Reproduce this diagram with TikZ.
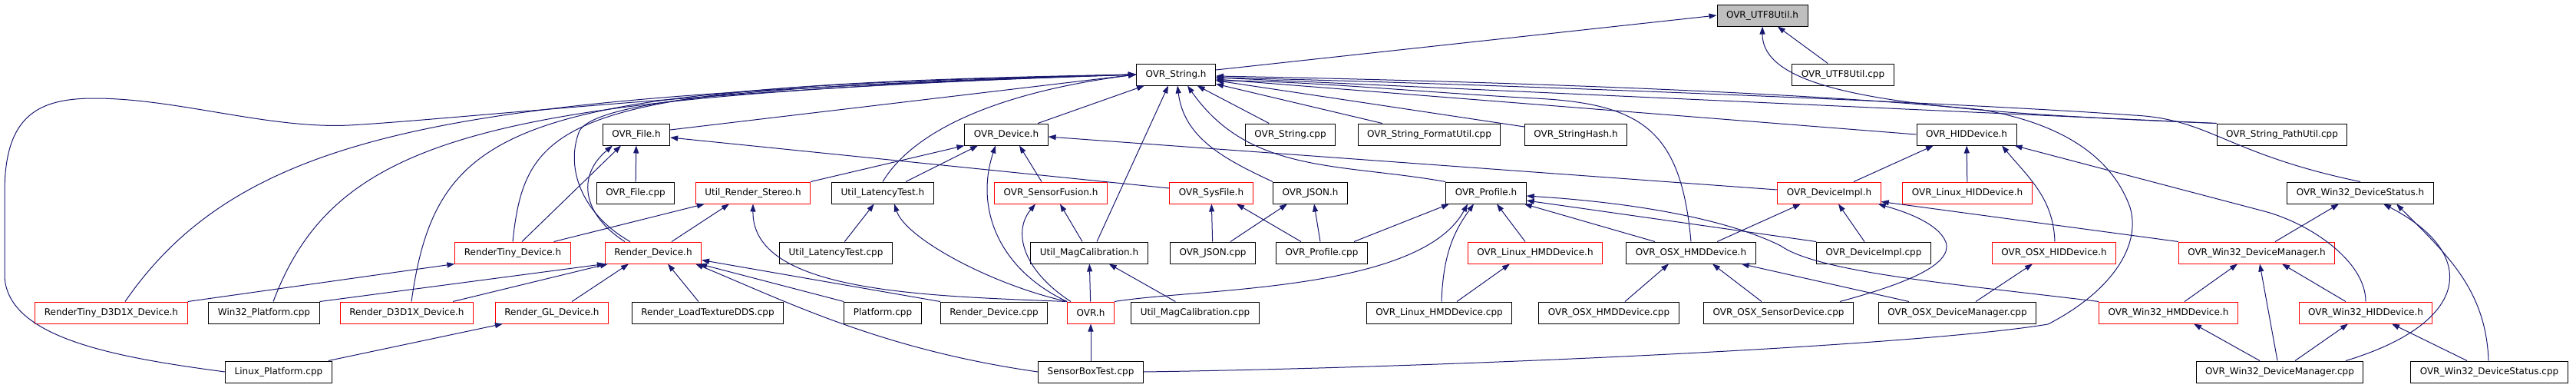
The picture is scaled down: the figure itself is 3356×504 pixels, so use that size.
\documentclass[tikz,border=0pt]{standalone}
\usepackage{fontspec}
\setmainfont{DejaVu Sans}
\usepackage{tikz}
\usetikzlibrary{arrows.meta}
\definecolor{edgeblue}{HTML}{191970}
\tikzset{edge/.style={draw=edgeblue,line width=1pt,-{Triangle[length=10pt,width=7pt]}}}
\tikzset{vertex/.style={rectangle,draw,line width=1pt,fill=white,minimum height=28pt,inner xsep=12pt,inner ysep=0pt,font=\fontsize{12}{14}\selectfont}}
\tikzset{redvertex/.style={vertex,draw=red}}
\tikzset{mainvertex/.style={vertex,fill=gray!50}}

\begin{document}
\begin{tikzpicture}[x=1pt,y=1pt]
    \useasboundingbox (0,0) rectangle (3356,-504);
    % row 0 and 1
    \node[mainvertex] (utfh) at (2296,-20) {OVR\_UTF8Util.h};
    \node[vertex] (strh) at (1532,-97) {OVR\_String.h};
    \node[vertex] (utfcpp) at (2401,-97) {OVR\_UTF8Util.cpp};
    % row 2
    \node[vertex] (fileh) at (829,-175) {OVR\_File.h};
    \node[vertex] (devh) at (1311,-175) {OVR\_Device.h};
    \node[vertex] (strcpp) at (1681,-175) {OVR\_String.cpp};
    \node[vertex] (fmtcpp) at (1862,-175) {OVR\_String\_FormatUtil.cpp};
    \node[vertex] (hashh) at (2053,-175) {OVR\_StringHash.h};
    \node[vertex] (hidh) at (2562,-175) {OVR\_HIDDevice.h};
    \node[vertex] (pathcpp) at (2973,-175) {OVR\_String\_PathUtil.cpp};
    % row 3
    \node[vertex] (filecpp) at (828,-251) {OVR\_File.cpp};
    \node[redvertex] (stereoh) at (981,-251) {Util\_Render\_Stereo.h};
    \node[vertex] (lath) at (1150,-251) {Util\_LatencyTest.h};
    \node[redvertex] (fusionh) at (1369,-251) {OVR\_SensorFusion.h};
    \node[redvertex] (sysh) at (1578,-251) {OVR\_SysFile.h};
    \node[vertex] (jsonh) at (1707,-251) {OVR\_JSON.h};
    \node[vertex] (profh) at (1936,-251) {OVR\_Profile.h};
    \node[redvertex] (implh) at (2383,-251) {OVR\_DeviceImpl.h};
    \node[redvertex] (lnxhidh) at (2563,-251) {OVR\_Linux\_HIDDevice.h};
    \node[vertex] (wstath) at (3075,-251) {OVR\_Win32\_DeviceStatus.h};
    % row 4
    \node[redvertex] (tinyh) at (668,-329) {RenderTiny\_Device.h};
    \node[redvertex] (rdevh) at (851,-329) {Render\_Device.h};
    \node[vertex] (latcpp) at (1089,-329) {Util\_LatencyTest.cpp};
    \node[vertex] (magh) at (1419,-329) {Util\_MagCalibration.h};
    \node[vertex] (jsoncpp) at (1580,-329) {OVR\_JSON.cpp};
    \node[vertex] (profcpp) at (1722,-329) {OVR\_Profile.cpp};
    \node[redvertex] (lnxhmdh) at (2000,-329) {OVR\_Linux\_HMDDevice.h};
    \node[vertex] (osxhmdh) at (2203,-329) {OVR\_OSX\_HMDDevice.h};
    \node[vertex] (implcpp) at (2441,-329) {OVR\_DeviceImpl.cpp};
    \node[redvertex] (osxhidh) at (2676,-329) {OVR\_OSX\_HIDDevice.h};
    \node[redvertex] (wmgrh) at (2940,-329) {OVR\_Win32\_DeviceManager.h};
    % row 5
    \node[redvertex] (tinyd3dh) at (145,-407) {RenderTiny\_D3D1X\_Device.h};
    \node[vertex] (winpfcpp) at (344,-407) {Win32\_Platform.cpp};
    \node[redvertex] (rd3dh) at (530,-407) {Render\_D3D1X\_Device.h};
    \node[redvertex] (rglh) at (719,-407) {Render\_GL\_Device.h};
    \node[vertex] (ddscpp) at (922,-407) {Render\_LoadTextureDDS.cpp};
    \node[vertex] (pfcpp) at (1150,-407) {Platform.cpp};
    \node[vertex] (rdevcpp) at (1295,-407) {Render\_Device.cpp};
    \node[redvertex] (ovrh) at (1421,-407) {OVR.h};
    \node[vertex] (magcpp) at (1557,-407) {Util\_MagCalibration.cpp};
    \node[vertex] (lnxhmdcpp) at (1875,-407) {OVR\_Linux\_HMDDevice.cpp};
    \node[vertex] (osxhmdcpp) at (2096,-407) {OVR\_OSX\_HMDDevice.cpp};
    \node[vertex] (osxsenscpp) at (2317,-407) {OVR\_OSX\_SensorDevice.cpp};
    \node[vertex] (osxmgrcpp) at (2550,-407) {OVR\_OSX\_DeviceManager.cpp};
    \node[redvertex] (whmdh) at (2825,-407) {OVR\_Win32\_HMDDevice.h};
    \node[redvertex] (whidh) at (3082,-407) {OVR\_Win32\_HIDDevice.h};
    % row 6
    \node[vertex] (lnxpfcpp) at (363,-484) {Linux\_Platform.cpp};
    \node[vertex] (boxcpp) at (1421,-484) {SensorBoxTest.cpp};
    \node[vertex] (wmgrcpp) at (2970,-484) {OVR\_Win32\_DeviceManager.cpp};
    \node[vertex] (wstatcpp) at (3243,-484) {OVR\_Win32\_DeviceStatus.cpp};

    % into OVR_UTF8Util.h
    \draw[edge] ([yshift=6pt]strh.east) -- (utfh.west);
    \draw[edge] (utfcpp) -- (utfh);
    \draw[edge] (pathcpp.north west) .. controls (2500,-145) and (2296,-125) .. (utfh.south);

    % into OVR_String.h
    \draw[edge] (lnxpfcpp.west) .. controls (150,-465) and (10,-440) .. (6,-360) -- (6,-250)
        .. controls (6,-150) and (50,-128) .. (123,-128) .. controls (230,-128) and (350,-168) .. (455,-163)
        .. controls (600,-155) and (1000,-110) .. (strh.west);
    \draw[edge] ([xshift=18pt]tinyd3dh.north) .. controls (330,-150) and (650,-125) .. (strh.west);
    \draw[edge] ([xshift=12pt]winpfcpp.north) .. controls (440,-170) and (650,-125) .. (strh.west);
    \draw[edge] ([xshift=6pt]rd3dh.north) .. controls (570,-150) and (680,-115) .. (strh.west);
    \draw[edge] (tinyh.north) .. controls (685,-150) and (740,-110) .. (strh.west);
    \draw[edge] ([xshift=-30pt]rdevh.north) .. controls (760,-280) and (735,-220) .. (755,-170)
        .. controls (780,-130) and (1000,-110) .. (strh.west);
    \draw[edge] ([yshift=6pt]fileh.east) -- (strh.west);
    \draw[edge] (devh) -- (strh);
    \draw[edge] (lath.north) .. controls (1190,-170) and (1300,-120) .. (strh.west);
    \draw[edge] ([xshift=10pt]magh.north) -- ([xshift=-10pt]strh.south);
    \draw[edge] (strcpp) -- (strh);
    \draw[edge] (fmtcpp) -- (strh);
    \draw[edge] (hashh) -- (strh);
    \draw[edge] (jsonh.north west) to[out=155,in=-83] ([xshift=2pt]strh.south);
    \draw[edge] (profh.north west) to[out=170,in=-55] ([xshift=15pt]strh.south);
    \draw[edge] (osxhmdh.north) .. controls (2190,-170) and (2140,-135) .. (2000,-128)
        .. controls (1850,-120) and (1700,-105) .. ([yshift=-8pt]strh.east);
    \draw[edge] (hidh.west) -- ([yshift=-6pt]strh.east);
    \draw[edge] (pathcpp.north west) -- ([yshift=-4pt]strh.east);
    \draw[edge] (wstath.north) .. controls (2900,-200) and (2880,-155) .. (2780,-150)
        .. controls (2500,-130) and (1800,-105) .. ([yshift=-4pt]strh.east);
    \draw[edge] (boxcpp.east) .. controls (1900,-478) and (2500,-450) .. (2668,-422)
        .. controls (2750,-380) and (2790,-320) .. (2775,-270) .. controls (2750,-200) and (2680,-160) .. (2583,-143)
        .. controls (2300,-115) and (1800,-103) .. ([yshift=-2pt]strh.east);

    % OVR_File.h and OVR_Device.h
    \draw[edge] ([xshift=12pt]tinyh.north) -- ([xshift=-20pt]fileh.south);
    \draw[edge] ([xshift=-37pt]rdevh.north) .. controls (760,-280) and (750,-230) .. ([xshift=-31pt]fileh.south);
    \draw[edge] (filecpp) -- (fileh);
    \draw[edge] ([yshift=6pt]sysh.west) -- ([yshift=-4pt]fileh.east);
    \draw[edge] (stereoh.north east) -- (devh.south west);
    \draw[edge] ([xshift=30pt]lath.north) -- ([xshift=-37pt]devh.south);
    \draw[edge] (ovrh.north west) .. controls (1300,-350) and (1270,-270) .. ([xshift=-14pt]devh.south);
    \draw[edge] ([xshift=-12pt]fusionh.north) -- ([xshift=17pt]devh.south);
    \draw[edge] ([yshift=4pt]implh.west) -- ([yshift=-3pt]devh.east);

    % Util headers and OVR.h
    \draw[edge] ([xshift=-22pt]tinyh.north east) -- ([xshift=12pt]stereoh.south west);
    \draw[edge] ([xshift=24pt]rdevh.north) -- ([xshift=-31pt]stereoh.south);
    \draw[edge] (ovrh.north west) .. controls (1200,-385) and (980,-380) .. (stereoh.south);
    \draw[edge] (latcpp) -- (lath);
    \draw[edge] (ovrh.north west) .. controls (1290,-370) and (1180,-310) .. ([xshift=15pt]lath.south);
    \draw[edge] ([xshift=-9pt]magh.north) -- ([xshift=12pt]fusionh.south);
    \draw[edge] ([xshift=-26pt]ovrh.north) .. controls (1330,-350) and (1320,-300) .. ([xshift=-20pt]fusionh.south);
    \draw[edge] (ovrh) -- (magh);
    \draw[edge] (magcpp) -- (magh);
    \draw[edge] (boxcpp) -- (ovrh);
    \draw[edge] (ovrh.north east) .. controls (1560,-375) and (1850,-380) .. ([xshift=-24pt]profh.south);

    % Render_Device.h and friends
    \draw[edge] (boxcpp.west) .. controls (1150,-455) and (1030,-395) .. ([xshift=-8pt]rdevh.south east);
    \draw[edge] (tinyd3dh.north east) -- (tinyh.south west);
    \draw[edge] (winpfcpp.north east) -- (rdevh.south west);
    \draw[edge] ([xshift=60pt]rd3dh.north) -- ([xshift=4pt]rdevh.south west);
    \draw[edge] ([xshift=26pt]rglh.north) -- ([xshift=-32pt]rdevh.south);
    \draw[edge] ([xshift=-12pt]ddscpp.north) -- ([xshift=19pt]rdevh.south);
    \draw[edge] (pfcpp.north west) -- ([xshift=-3pt]rdevh.south east);
    \draw[edge] (rdevcpp.north west) -- ([yshift=5pt]rdevh.south east);
    \draw[edge] ([xshift=-5pt]lnxpfcpp.north east) -- ([xshift=10pt]rglh.south west);

    % JSON, SysFile and Profile
    \draw[edge] (jsoncpp) -- (sysh);
    \draw[edge] ([xshift=23pt]jsoncpp.north) -- ([xshift=-30pt]jsonh.south);
    \draw[edge] ([xshift=-27pt]profcpp.north) -- ([xshift=33pt]sysh.south);
    \draw[edge] ([xshift=-2pt]profcpp.north) -- ([xshift=5pt]jsonh.south);
    \draw[edge] ([xshift=42pt]profcpp.north) -- ([xshift=-48pt]profh.south);
    \draw[edge] ([xshift=-13pt]lnxhmdh.north) -- ([xshift=14pt]profh.south);
    \draw[edge] ([xshift=-47pt]osxhmdh.north) -- ([xshift=-3pt]profh.south east);
    \draw[edge] ([xshift=3pt]lnxhmdcpp.north) .. controls (1880,-330) and (1895,-300) .. ([xshift=-16pt]profh.south);
    \draw[edge] ([xshift=23pt]lnxhmdcpp.north) -- ([xshift=-33pt]lnxhmdh.south);
    \draw[edge] (implcpp.north west) -- ([yshift=-10pt]profh.east);
    \draw[edge] (whmdh.north west) .. controls (2550,-370) and (2370,-355) .. (2320,-320)
        .. controls (2260,-290) and (2150,-265) .. ([yshift=-4pt]profh.east);

    % OVR_DeviceImpl.h and OSX
    \draw[edge] ([xshift=34pt]osxhmdh.north) -- ([xshift=-37pt]implh.south);
    \draw[edge] ([xshift=-12pt]implcpp.north) -- ([xshift=12pt]implh.south);
    \draw[edge] (wmgrh.north west) -- ([yshift=3pt]implh.south east);
    \draw[edge] ([xshift=-18pt]osxsenscpp.north east) .. controls (2480,-370) and (2545,-345) .. (2535,-315)
        .. controls (2525,-290) and (2480,-275) .. ([xshift=-4pt]implh.south east);
    \draw[edge] ([xshift=21pt]osxhmdcpp.north) -- ([xshift=-29pt]osxhmdh.south);
    \draw[edge] ([xshift=-22pt]osxsenscpp.north) -- ([xshift=28pt]osxhmdh.south);
    \draw[edge] ([xshift=-63pt]osxmgrcpp.north) -- ([xshift=-19pt]osxhmdh.south east);

    % OVR_HIDDevice.h
    \draw[edge] ([xshift=32pt]implh.north) -- ([xshift=-43pt]hidh.south);
    \draw[edge] (lnxhidh) -- (hidh);
    \draw[edge] ([xshift=1pt]osxhidh.north) to[out=92,in=-50] ([xshift=46pt]hidh.south);
    \draw[edge] (whidh.north) .. controls (3082,-340) and (3010,-291) .. (2950,-275) -- ([xshift=-3pt]hidh.south east);
    \draw[edge] ([xshift=24pt]osxmgrcpp.north) -- ([xshift=-28pt]osxhidh.south);

    % Win32
    \draw[edge] ([xshift=21pt]whmdh.north) -- ([xshift=-25pt]wmgrh.south);
    \draw[edge] ([xshift=-26pt]whidh.north) -- ([xshift=33pt]wmgrh.south);
    \draw[edge] ([xshift=-3pt]wmgrcpp.north) -- ([xshift=4pt]wmgrh.south);
    \draw[edge] ([xshift=-26pt]wmgrcpp.north) -- ([xshift=33pt]whmdh.south);
    \draw[edge] ([xshift=20pt]wmgrcpp.north) -- ([xshift=-23pt]whidh.south);
    \draw[edge] ([xshift=-29pt]wstatcpp.north) -- ([xshift=34pt]whidh.south);
    \draw[edge] ([xshift=24pt]wmgrh.north) -- ([xshift=-28pt]wstath.south);
    \draw[edge] ([xshift=86pt]wmgrcpp.north) .. controls (3220,-420) and (3230,-330) .. ([xshift=30pt]wstath.south);
    \draw[edge] ([xshift=-1pt]wstatcpp.north) to[out=92,in=-45] ([xshift=47pt]wstath.south);
  \end{tikzpicture}
\end{document}
